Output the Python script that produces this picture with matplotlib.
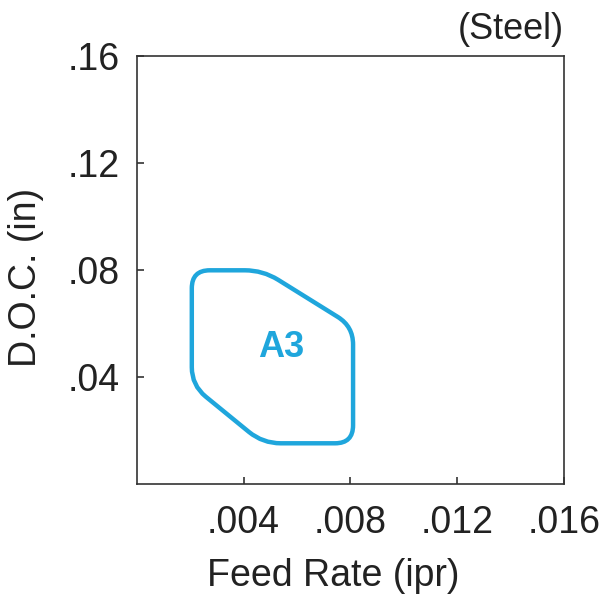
import numpy as np
import matplotlib
matplotlib.use("Agg")
import matplotlib.pyplot as plt
from matplotlib.path import Path
import matplotlib.patches as patches

plt.rcParams['font.family'] = ['Liberation Sans', 'DejaVu Sans']

# Operating window A3 (steel), corner points
feed_rate = [0.00206, 0.00472, 0.0081, 0.0081, 0.00472, 0.00206]
doc = [0.080, 0.080, 0.059, 0.0153, 0.0153, 0.037]
region_label = "A3"
label_pos = (0.00539, 0.0512)

x_ticks = [0.004, 0.008, 0.012, 0.016]
x_tick_labels = ['.004', '.008', '.012', '.016']
y_ticks = [0.04, 0.08, 0.12, 0.16]
y_tick_labels = ['.04', '.08', '.12', '.16']

xlim = (0, 0.016)
ylim = (0, 0.16)
blue = '#1fa6dc'


def rounded_path(xs, ys, radius=0.042):
    """Closed polygon with rounded corners (radius in axes fraction)."""
    sx = xlim[1] - xlim[0]
    sy = ylim[1] - ylim[0]
    pts = np.column_stack([(np.array(xs) - xlim[0]) / sx, (np.array(ys) - ylim[0]) / sy])
    n = len(pts)
    verts, codes = [], []
    for i in range(n):
        p, v, q = pts[i - 1], pts[i], pts[(i + 1) % n]
        d1 = (p - v) / np.linalg.norm(p - v)
        d2 = (q - v) / np.linalg.norm(q - v)
        a = v + radius * d1
        b = v + radius * d2
        verts.append(a)
        codes.append(Path.MOVETO if i == 0 else Path.LINETO)
        verts += [v, b]
        codes += [Path.CURVE3, Path.CURVE3]
    verts.append(verts[0])
    codes.append(Path.CLOSEPOLY)
    verts = np.array(verts)
    verts[:, 0] = verts[:, 0] * sx + xlim[0]
    verts[:, 1] = verts[:, 1] * sy + ylim[0]
    return Path(verts, codes)


fig = plt.figure(figsize=(6, 6), dpi=100)
ax = fig.add_axes([0.228, 0.193, 0.712, 0.713])

ax.add_patch(patches.PathPatch(rounded_path(feed_rate, doc), facecolor='none',
                               edgecolor=blue, linewidth=3.2, joinstyle='round'))
ax.text(label_pos[0], label_pos[1], region_label, color=blue, fontsize=26,
        fontweight='bold', ha='center', va='center')

ax.set_xlim(*xlim)
ax.set_ylim(*ylim)
ax.set_xticks(x_ticks)
ax.set_xticklabels(x_tick_labels)
ax.set_yticks(y_ticks)
ax.set_yticklabels(y_tick_labels)
ax.tick_params(direction='in', length=5, width=1.2, labelsize=27, color='#333333',
               labelcolor='#222222')
ax.tick_params(axis='x', pad=15)
ax.tick_params(axis='y', pad=12)
for s in ax.spines.values():
    s.set_linewidth(1.2)
    s.set_color('#333333')

ax.set_xlabel('Feed Rate (ipr)', fontsize=27, color='#222222')
ax.set_ylabel('D.O.C. (in)', fontsize=27, color='#222222')
ax.xaxis.set_label_coords(0.46, -0.172)
ax.yaxis.set_label_coords(-0.218, 0.484)

ax.text(1.0, 1.022, '(Steel)', transform=ax.transAxes, fontsize=26, color='#222222',
        ha='right', va='bottom')

fig.savefig('out.png', dpi=100)
